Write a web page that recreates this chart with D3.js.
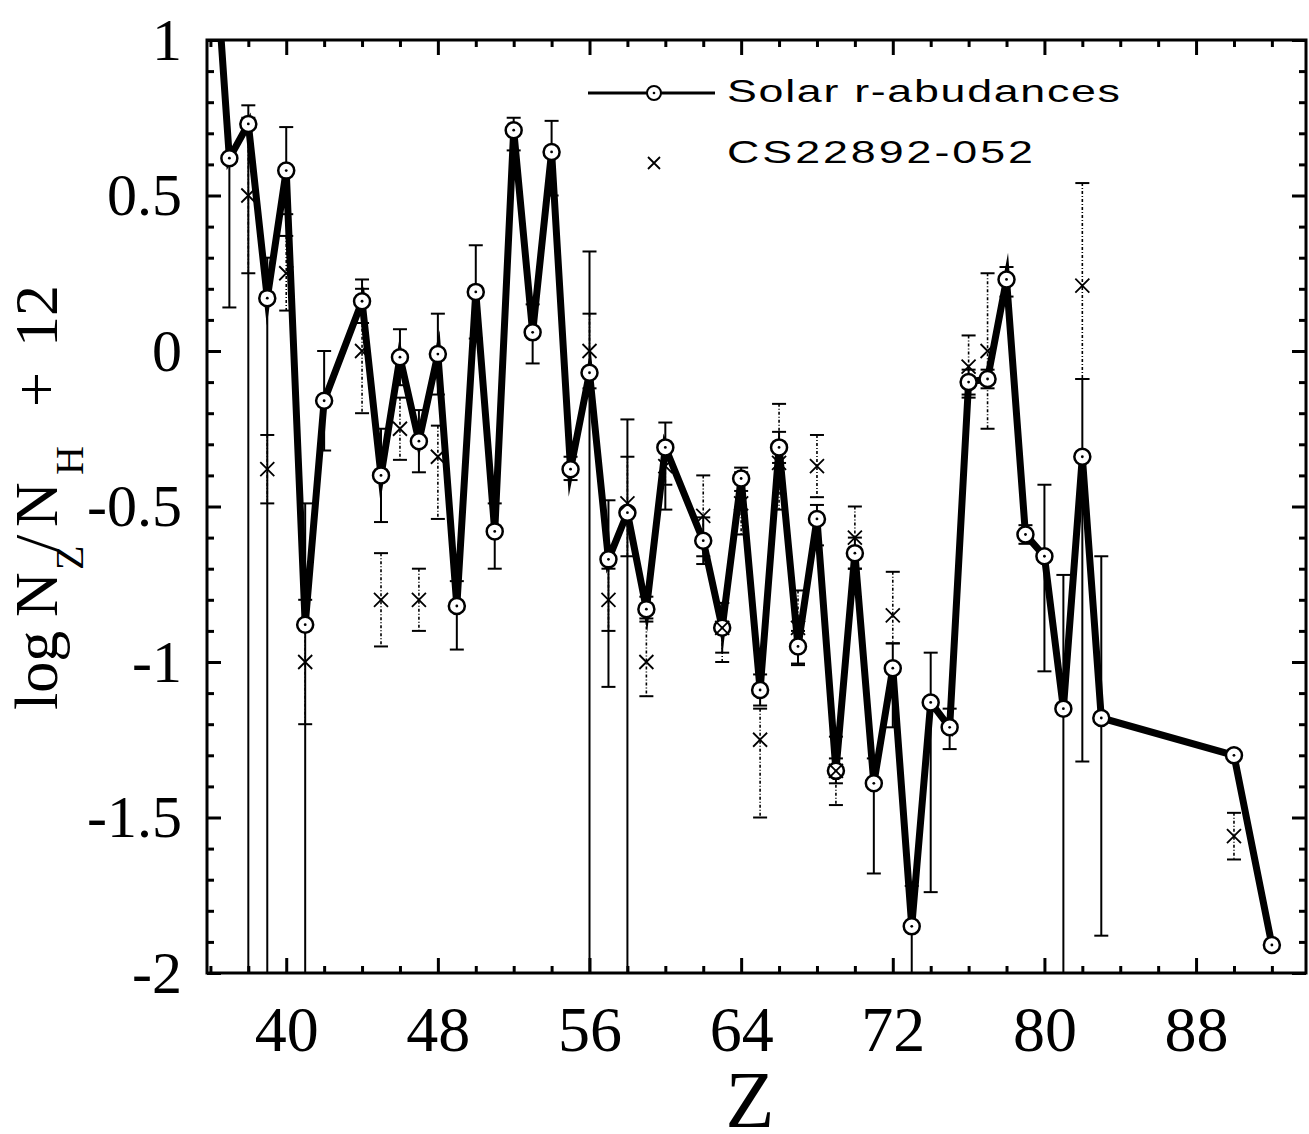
<!DOCTYPE html>
<meta charset="utf-8">
<style>
  body { margin: 0; background: #fff; }
</style>

<!-- Load d3.js -->
<script src="https://d3js.org/d3.v7.min.js"></script>

<div id="chart"></div>

<script>
  // Solar r-process abundances (Z, value, error up, error down)
  // an error of 3 means the bar runs off the bottom of the plot
  var solarZ    = [36, 37, 38, 39, 40, 41, 42, 44, 45, 46, 47, 48, 49, 50, 51, 52, 53, 54, 55, 56, 57, 58, 59, 60,
                   62, 63, 64, 65, 66, 67, 68, 69, 70, 71, 72, 73, 74, 75, 76, 77, 78, 79, 80, 81, 82, 83, 90, 92]
  var solarVal  = [1.50, 0.62, 0.73, 0.17, 0.58, -0.88, -0.16, 0.16, -0.40, -0.02, -0.29, -0.01, -0.82, 0.19, -0.58, 0.71,
                   0.06, 0.64, -0.38, -0.07, -0.67, -0.52, -0.83, -0.31, -0.61, -0.89, -0.41, -1.09, -0.31, -0.95, -0.54,
                   -1.35, -0.65, -1.39, -1.02, -1.85, -1.13, -1.21, -0.10, -0.09, 0.23, -0.59, -0.66, -1.15, -0.34, -1.18,
                   -1.30, -1.91]
  var solarUp   = [0, 0, 0.06, 0.13, 0.14, 0.39, 0.16, 0.07, 0.15, 0.09, 0.10, 0.13, 0.08, 0.15, 0.09, 0.04,
                   0.09, 0.10, 0.04, 0.39, 0.19, 0.30, 0.04, 0.08, 0.075, 0.08, 0.035, 0.05, 0.05, 0.05, 0.045,
                   0.04, 0.05, 0.08, 0.08, 0.13, 0.16, 0.06, 0.04, 0.03, 0.04, 0.03, 0.23, 0.43, 0.25, 0.52,
                   0, 0]
  var solarDown = [0, 0.48, 3, 3, 0.14, 3, 0.16, 0.07, 0.15, 0.09, 0.10, 0.13, 0.14, 0.15, 0.12, 0.065,
                   0.10, 0.14, 0.035, 3, 0.41, 3, 0.04, 0.20, 0.075, 0.08, 0.04, 0.05, 0.05, 0.055, 0.085,
                   0.04, 0.05, 0.29, 0.19, 3, 0.61, 0.07, 0.04, 0.03, 0.055, 0.03, 0.37, 3, 0.98, 0.70,
                   0, 0]

  // CS22892-052 abundances
  var csZ    = [38, 39, 40, 41, 44, 45, 46, 47, 48, 56, 57, 58, 59, 60, 62, 63, 64, 65, 66, 67, 68, 69, 70, 72, 76, 77, 82, 90]
  var csVal  = [0.50, -0.38, 0.25, -1.00, 0.00, -0.80, -0.25, -0.80, -0.34, 0.00, -0.80, -0.49, -1.00, -0.37,
                -0.53, -0.89, -0.49, -1.25, -0.36, -0.89, -0.37, -1.35, -0.60, -0.85, -0.05, 0.00, 0.21, -1.56]
  var csUp   = [0.25, 0.11, 0.12, 0.20, 0.20, 0.15, 0.10, 0.10, 0.10, 0.12, 0.10, 0.15, 0.14, 0.06,
                0.13, 0.08, 0.10, 0.10, 0.19, 0.12, 0.10, 0.11, 0.10, 0.14, 0.10, 0.25, 0.33, 0.075]
  var csDown = [0.25, 0.11, 0.12, 0.20, 0.20, 0.15, 0.10, 0.10, 0.20, 0.12, 0.10, 0.17, 0.11, 0.06,
                0.13, 0.11, 0.10, 0.25, 0.15, 0.12, 0.10, 0.11, 0.10, 0.09, 0.10, 0.25, 0.30, 0.075]

  // ticks
  var xMajorTicks = [40, 48, 56, 64, 72, 80, 88]
  var xMinorTicks = d3.range(36, 93, 2).filter(function(d) { return xMajorTicks.indexOf(d) < 0 })
  var yMajorTicks = [-2, -1.5, -1, -0.5, 0, 0.5, 1]
  var yMinorTicks = d3.range(-20, 11).map(function(d) { return d / 10 }).filter(function(d) { return yMajorTicks.indexOf(d) < 0 })

  var legendLabels = ["Solar  r-abudances", "CS22892-052"]

  // size of the picture and the plot box
  // (not called top/left: window.top is read only)
  var width = 1309,
      height = 1134,
      boxLeft = 207, boxRight = 1306, boxTop = 40, boxBottom = 973

  var serif = "'Liberation Serif', 'Times New Roman', serif"
  var sans = "'Liberation Sans', Arial, sans-serif"

  var svg = d3.select("#chart")
    .append("svg")
      .attr("width", width)
      .attr("height", height)

  var x = d3.scaleLinear().domain([35.82, 93.8]).range([boxLeft, boxRight])
  var y = d3.scaleLinear().domain([-2, 1]).range([boxBottom, boxTop])

  svg.append("clipPath").attr("id", "plotclip")
    .append("rect")
      .attr("x", boxLeft).attr("y", boxTop)
      .attr("width", boxRight - boxLeft).attr("height", boxBottom - boxTop)

  // axes: major and minor ticks on all four sides, pointing inward
  function styleAxis(g, size) {
    g.select(".domain").remove()
    g.selectAll("line").attr("stroke", "#000").attr("stroke-width", 3)
    g.attr("font-family", serif).attr("font-size", size)
    g.selectAll("text").attr("fill", "#000")
  }

  svg.append("g")
      .attr("transform", "translate(0," + boxBottom + ")")
      .call(d3.axisBottom(x).tickValues(xMajorTicks).tickSizeInner(-15).tickSizeOuter(0).tickPadding(33).tickFormat(d3.format("d")))
      .call(styleAxis, 64)
  svg.append("g")
      .attr("transform", "translate(0," + boxBottom + ")")
      .call(d3.axisBottom(x).tickValues(xMinorTicks).tickSizeInner(-7).tickSizeOuter(0).tickFormat(""))
      .call(styleAxis, 10)
  svg.append("g")
      .attr("transform", "translate(0," + boxTop + ")")
      .call(d3.axisTop(x).tickValues(xMajorTicks).tickSizeInner(-15).tickSizeOuter(0).tickFormat(""))
      .call(styleAxis, 10)
  svg.append("g")
      .attr("transform", "translate(0," + boxTop + ")")
      .call(d3.axisTop(x).tickValues(xMinorTicks).tickSizeInner(-7).tickSizeOuter(0).tickFormat(""))
      .call(styleAxis, 10)

  svg.append("g")
      .attr("transform", "translate(" + boxLeft + ",0)")
      .call(d3.axisLeft(y).tickValues(yMajorTicks).tickSizeInner(-14).tickSizeOuter(0).tickPadding(25).tickFormat(function(d) { return String(d) }))
      .call(styleAxis, 60)
  svg.append("g")
      .attr("transform", "translate(" + boxLeft + ",0)")
      .call(d3.axisLeft(y).tickValues(yMinorTicks).tickSizeInner(-7).tickSizeOuter(0).tickFormat(""))
      .call(styleAxis, 10)
  svg.append("g")
      .attr("transform", "translate(" + boxRight + ",0)")
      .call(d3.axisRight(y).tickValues(yMajorTicks).tickSizeInner(-14).tickSizeOuter(0).tickFormat(""))
      .call(styleAxis, 10)
  svg.append("g")
      .attr("transform", "translate(" + boxRight + ",0)")
      .call(d3.axisRight(y).tickValues(yMinorTicks).tickSizeInner(-7).tickSizeOuter(0).tickFormat(""))
      .call(styleAxis, 10)

  // plot frame
  svg.append("rect")
    .attr("x", boxLeft).attr("y", boxTop)
    .attr("width", boxRight - boxLeft).attr("height", boxBottom - boxTop)
    .attr("fill", "none")
    .attr("stroke", "#000")
    .attr("stroke-width", 3)

  // axis titles
  svg.append("text")
    .attr("x", 750).attr("y", 1127)
    .attr("text-anchor", "middle")
    .attr("font-family", serif).attr("font-size", 80)
    .text("Z")

  var ytitle = svg.append("text")
    .attr("transform", "translate(57,710) rotate(-90)")
    .attr("font-family", serif).attr("font-size", 62)
  ytitle.append("tspan").attr("x", 0).attr("y", 0).text("log")
  ytitle.append("tspan").attr("x", 93).attr("y", 0).text("N")
  ytitle.append("tspan").attr("x", 140).attr("y", 26).attr("font-size", 40).text("Z")
  ytitle.append("tspan").attr("x", 158).attr("y", 0).text("/")
  ytitle.append("tspan").attr("x", 183).attr("y", 0).text("N")
  ytitle.append("tspan").attr("x", 235).attr("y", 26).attr("font-size", 40).text("H")
  ytitle.append("tspan").attr("x", 303).attr("y", 0).text("+")
  ytitle.append("tspan").attr("x", 363).attr("y", 0).text("12")

  // data
  var solar = solarZ.map(function(z, i) { return {z: z, v: solarVal[i], up: solarUp[i], down: solarDown[i]} })
  var cs = csZ.map(function(z, i) { return {z: z, v: csVal[i], up: csUp[i], down: csDown[i]} })

  var plot = svg.append("g").attr("clip-path", "url(#plotclip)")

  // error bars: solid for the solar values, dotted for the star
  function errorBars(data, dash, width) {
    var g = plot.append("g")
    var bars = data.filter(function(d) { return d.up > 0 || d.down > 0 })
    g.selectAll("line.bar")
      .data(bars)
      .join("line")
        .attr("class", "bar")
        .attr("x1", function(d) { return x(d.z) })
        .attr("x2", function(d) { return x(d.z) })
        .attr("y1", function(d) { return y(d.v + d.up) })
        .attr("y2", function(d) { return y(d.v - d.down) })
        .attr("stroke", "#000")
        .attr("stroke-width", width)
        .attr("stroke-dasharray", dash)
    var caps = []
    bars.forEach(function(d) {
      if (d.up > 0) caps.push({z: d.z, v: d.v + d.up})
      if (d.down > 0) caps.push({z: d.z, v: d.v - d.down})
    })
    g.selectAll("line.cap")
      .data(caps)
      .join("line")
        .attr("class", "cap")
        .attr("x1", function(d) { return x(d.z) - 7 })
        .attr("x2", function(d) { return x(d.z) + 7 })
        .attr("y1", function(d) { return y(d.v) })
        .attr("y2", function(d) { return y(d.v) })
        .attr("stroke", "#000")
        .attr("stroke-width", 2)
  }
  errorBars(cs, "3,2,1,2", 1.6)
  errorBars(solar, null, 2)

  // solar line
  var line = d3.line()
    .x(function(d) { return x(d.z) })
    .y(function(d) { return y(d.v) })

  plot.append("path")
    .datum(solar)
    .attr("d", line)
    .attr("fill", "none")
    .attr("stroke", "#000")
    .attr("stroke-width", 7)
    .attr("stroke-linejoin", "miter")
    .attr("stroke-miterlimit", 8)

  // open circles with a dot in the middle
  var dots = plot.selectAll("g.solar")
    .data(solar)
    .join("g")
      .attr("class", "solar")
      .attr("transform", function(d) { return "translate(" + x(d.z) + "," + y(d.v) + ")" })
  dots.append("circle").attr("r", 8).attr("fill", "#fff").attr("stroke", "#000").attr("stroke-width", 2.5)
  dots.append("circle").attr("r", 1.4).attr("fill", "#000")

  // x markers for CS22892-052
  plot.selectAll("path.cs")
    .data(cs)
    .join("path")
      .attr("class", "cs")
      .attr("d", function(d) {
        var px = x(d.z), py = y(d.v)
        return "M" + (px - 7) + "," + (py - 7) + "L" + (px + 7) + "," + (py + 7) +
               "M" + (px - 7) + "," + (py + 7) + "L" + (px + 7) + "," + (py - 7)
      })
      .attr("stroke", "#000")
      .attr("stroke-width", 1.8)

  // legend (the lettering in the figure is stretched sideways)
  var legend = svg.append("g")
  legend.append("line")
    .attr("x1", 588).attr("x2", 715).attr("y1", 93).attr("y2", 93)
    .attr("stroke", "#000").attr("stroke-width", 3)
  legend.append("circle").attr("cx", 654).attr("cy", 93).attr("r", 7)
    .attr("fill", "#fff").attr("stroke", "#000").attr("stroke-width", 2)
  legend.append("circle").attr("cx", 654).attr("cy", 93).attr("r", 1.3).attr("fill", "#000")
  legend.append("path")
    .attr("d", "M648,157L660,169M648,169L660,157")
    .attr("stroke", "#000").attr("stroke-width", 1.8)

  var stretch = 1.4
  legend.append("text")
    .attr("transform", "translate(727,102) scale(" + stretch + ",1)")
    .attr("font-family", sans).attr("font-size", 32)
    .attr("textLength", (1120 - 727) / stretch).attr("lengthAdjust", "spacing")
    .text(legendLabels[0])
  legend.append("text")
    .attr("transform", "translate(727,163) scale(" + stretch + ",1)")
    .attr("font-family", sans).attr("font-size", 32)
    .attr("textLength", (1033 - 727) / stretch).attr("lengthAdjust", "spacing")
    .text(legendLabels[1])
</script>
